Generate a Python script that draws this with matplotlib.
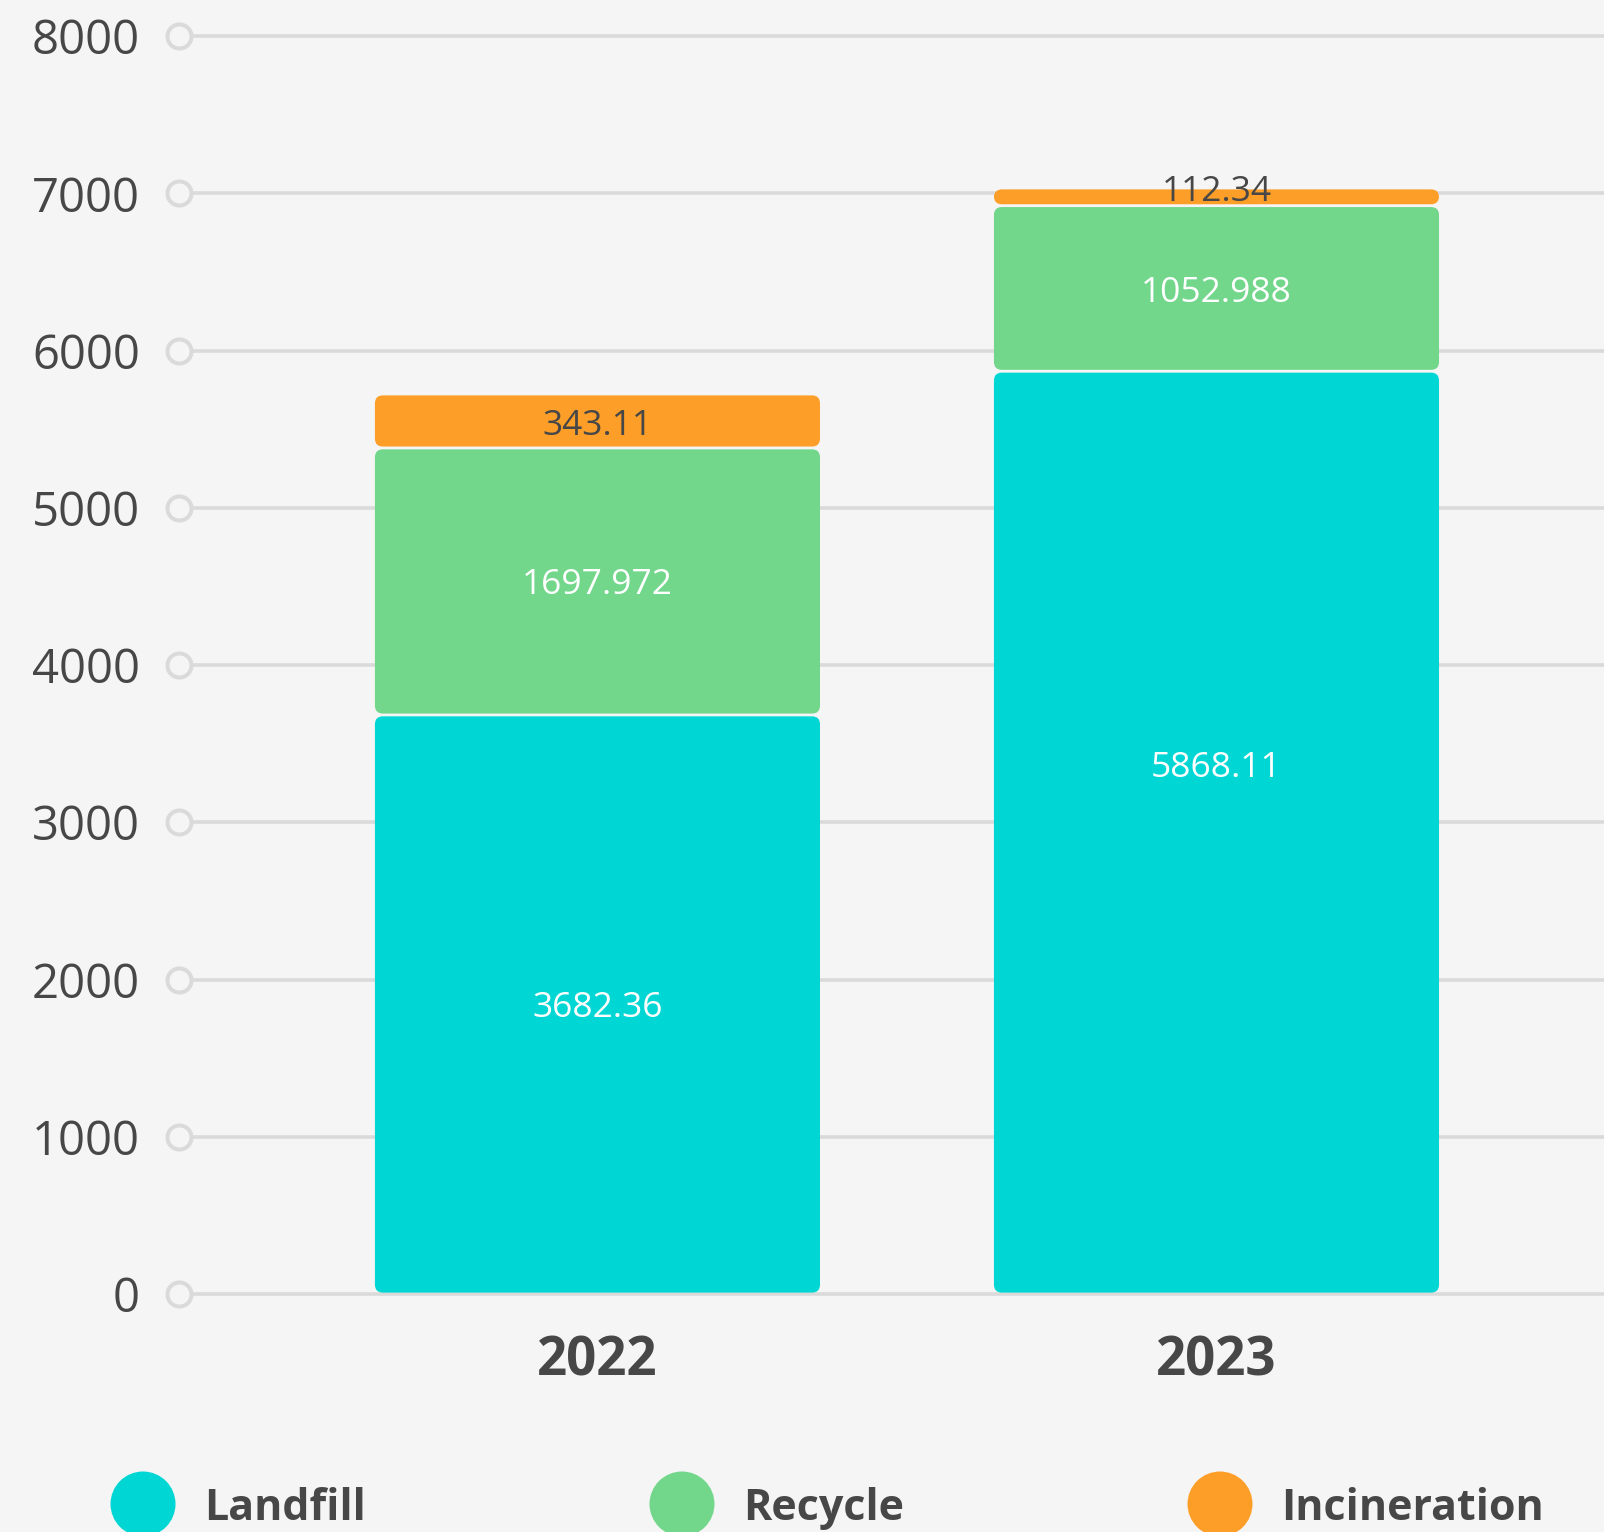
import matplotlib.pyplot as plt
from matplotlib.patches import FancyBboxPatch

years = ["2022", "2023"]
series = ["Landfill", "Recycle", "Incineration"]
landfill = [3682.36, 5868.11]
recycle = [1697.972, 1052.988]
incineration = [343.11, 112.34]
yticks = [0, 1000, 2000, 3000, 4000, 5000, 6000, 7000, 8000]

colors = ["#00D6D3", "#72D68B", "#FC9E27"]
label_colors = ["white", "white", "#474747"]
# label nudges in pixels (positive = down), per series per year
label_dy = [[4, -65], [4, 5], [5, -5]]
bg = "#F5F5F5"
grid_c = "#DADADA"
text_c = "#474747"

plt.rcParams["font.family"] = ["Open Sans", "DejaVu Sans"]

W, H, dpi = 1604, 1532, 100
fig = plt.figure(figsize=(W / dpi, H / dpi), dpi=dpi, facecolor=bg)

# axes in pixel terms: y=0 at 1294px, y=8000 at 36px from top
left_px, right_px = 179, 1604
bot_px, top_px = 1294, 36
ax = fig.add_axes([left_px / W, (H - bot_px) / H, (right_px - left_px) / W, (bot_px - top_px) / H])
ax.set_facecolor(bg)
ax.set_ylim(0, 8000)
ax.set_xlim(-0.676, 1.626)
for s in ax.spines.values():
    s.set_visible(False)

xupp = (1.626 + 0.676) / (right_px - left_px)
yupp = 8000 / (bot_px - top_px)

# gridlines + circle markers
for t in yticks:
    ax.plot([-0.676 + 14 * xupp, 1.626], [t, t], color=grid_c, lw=2.6, clip_on=False, zorder=1,
            solid_capstyle="butt")
ax.scatter([-0.676] * len(yticks), yticks, s=300, facecolor=bg, edgecolor=grid_c, linewidth=2.9,
           clip_on=False, zorder=2)
ax.set_yticks(yticks)
ax.set_yticklabels([str(t) for t in yticks], fontsize=34, color=text_c)
ax.tick_params(axis="y", length=0, pad=28)
ax.set_xticks([])

# stacked bars
width = 0.719
x = list(range(len(years)))
bottoms = [0, 0]
gap = 1.4 * yupp
for vals, col, lc, dys in zip([landfill, recycle, incineration], colors, label_colors, label_dy):
    bars = ax.bar(x, vals, width, bottom=bottoms, color=col)
    for b, v, dy in zip(bars, vals, dys):
        b.set_visible(False)
        patch = FancyBboxPatch((b.get_x(), b.get_y() + gap), b.get_width(), b.get_height() - 2 * gap,
                               boxstyle="round,pad=0,rounding_size=%f" % (8 * xupp),
                               mutation_aspect=yupp / xupp, facecolor=col, edgecolor="none", zorder=3)
        ax.add_patch(patch)
        ax.annotate(str(v), (b.get_x() + b.get_width() / 2, b.get_y() + b.get_height() / 2),
                    xytext=(0, -dy * 0.72), textcoords="offset points",
                    ha="center", va="center", fontsize=25.5, color=lc, zorder=4)
    bottoms = [bt + v for bt, v in zip(bottoms, vals)]

for xi, yr in zip(x, years):
    ax.text(xi, -68 * yupp, yr, ha="center", va="center", fontsize=38, fontweight="bold",
            color=text_c, clip_on=False)

# legend
lax = fig.add_axes([0, 0, 1, 1], facecolor="none")
lax.set_xlim(0, W)
lax.set_ylim(H, 0)
lax.axis("off")
cx = [143, 682, 1220]
for c, name, col in zip(cx, series, colors):
    lax.scatter([c], [1504], s=2190, color=col, edgecolor="none")
    lax.text(c + 61, 1509, name, ha="left", va="center", fontsize=31, fontweight="bold", color=text_c)

fig.savefig("out.png", dpi=dpi, facecolor=bg)
